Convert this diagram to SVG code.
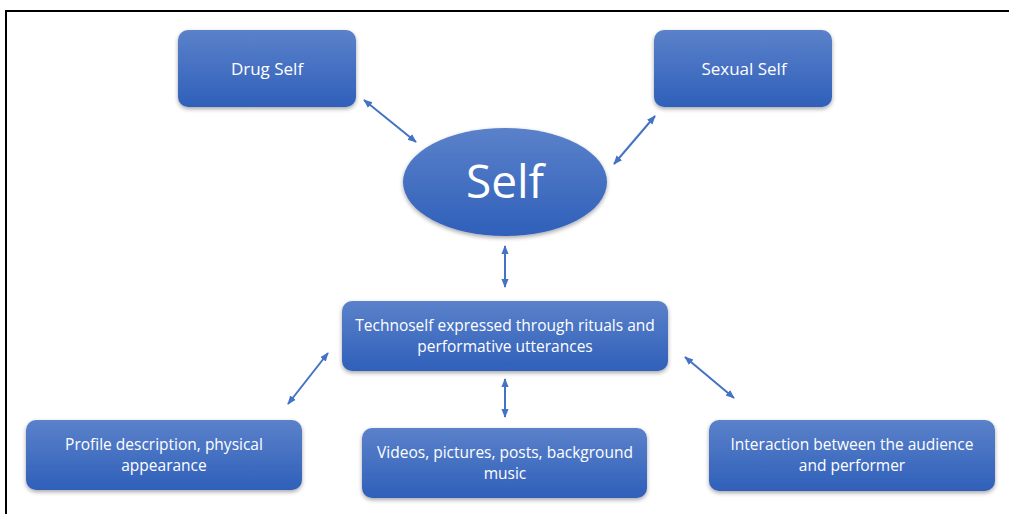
<svg xmlns="http://www.w3.org/2000/svg" width="1009" height="514" viewBox="0 0 1009 514">
<defs>
<linearGradient id="g" x1="0" y1="0" x2="0" y2="1">
<stop offset="0" stop-color="#5b81ca"/>
<stop offset="1" stop-color="#2f60ba"/>
</linearGradient>
<filter id="sh" x="-10%" y="-10%" width="120%" height="130%">
<feDropShadow dx="0" dy="2" stdDeviation="2" flood-color="#000" flood-opacity="0.35"/>
</filter>
<marker id="ah" viewBox="0 0 10 10" refX="9" refY="5" markerWidth="4.5" markerHeight="4.5" orient="auto-start-reverse">
<path d="M0,1 L10,5 L0,9 z" fill="#4472c4"/>
</marker>
<style>
.box{fill:url(#g);filter:url(#sh)}
.t{fill:#fff;font-family:"Open Sans","Liberation Sans",sans-serif;font-size:15.5px;text-anchor:middle}
.big{font-size:17px}
.c{stroke:#4472c4;stroke-width:2;fill:none;marker-start:url(#ah);marker-end:url(#ah)}
</style>
</defs>
<rect width="1009" height="514" fill="#fff"/>
<path d="M6,514 V11 H1009" fill="none" stroke="#000" stroke-width="2"/>
<g id="connectors">
<line class="c" x1="364" y1="100" x2="416" y2="142"/>
<line class="c" x1="655" y1="116" x2="614" y2="164"/>
<line class="c" x1="505" y1="246" x2="505" y2="287"/>
<line class="c" x1="505" y1="379" x2="505" y2="417"/>
<line class="c" x1="328" y1="353" x2="288" y2="404"/>
<line class="c" x1="685" y1="357" x2="734" y2="398"/>
</g>
<g id="drug">
<rect class="box" x="178" y="30" width="178" height="77" rx="10"/>
<text class="t big" x="267" y="75">Drug Self</text>
</g>
<g id="sexual">
<rect class="box" x="654" y="30" width="178" height="77" rx="10"/>
<text class="t big" x="744" y="75">Sexual Self</text>
</g>
<g id="self">
<ellipse class="box" cx="505" cy="182" rx="102" ry="54"/>
<text class="t" x="505" y="198" style="font-size:46px">Self</text>
</g>
<g id="technoself">
<rect class="box" x="342" y="301" width="326" height="70" rx="10"/>
<text class="t" x="505" y="331">Technoself expressed through rituals and</text>
<text class="t" x="505" y="352">performative utterances</text>
</g>
<g id="profile">
<rect class="box" x="26" y="420" width="276" height="70" rx="10"/>
<text class="t" x="164" y="450">Profile description, physical</text>
<text class="t" x="164" y="471">appearance</text>
</g>
<g id="videos">
<rect class="box" x="362" y="428" width="285" height="70" rx="10"/>
<text class="t" x="505" y="458">Videos, pictures, posts, background</text>
<text class="t" x="505" y="479">music</text>
</g>
<g id="interaction">
<rect class="box" x="709" y="420" width="286" height="71" rx="10"/>
<text class="t" x="852" y="450">Interaction between the audience</text>
<text class="t" x="852" y="471">and performer</text>
</g>
</svg>
